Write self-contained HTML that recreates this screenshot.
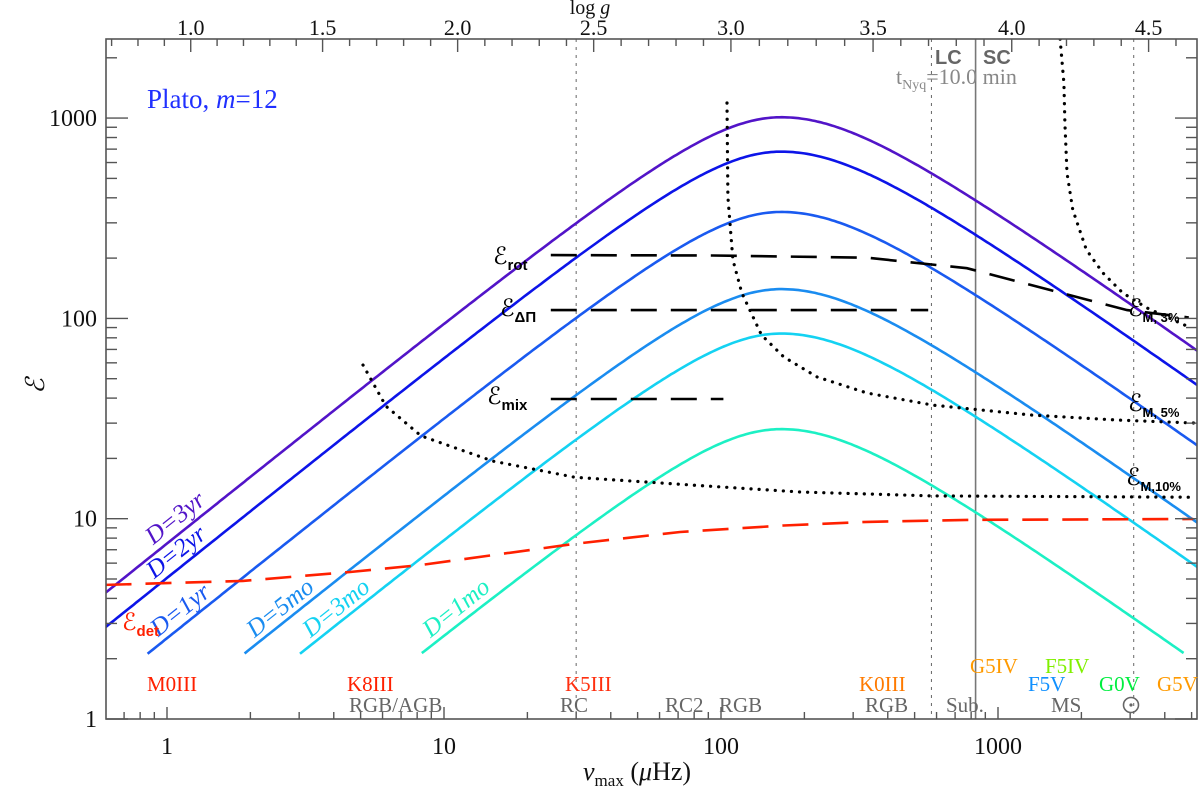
<!DOCTYPE html>
<html><head><meta charset="utf-8"><style>
html,body{margin:0;padding:0;background:#fff;}
svg{display:block;font-family:"Liberation Serif","DejaVu Serif",serif;}
</style></head><body>
<svg id="chart" width="1200" height="790" viewBox="0 0 1200 790">
<defs><clipPath id="plotclip"><rect x="106" y="39" width="1091" height="680"/></clipPath></defs>
<g id="grid"></g>
<g id="series" clip-path="url(#plotclip)"></g>
<g id="axes"></g>
<g id="labels"></g>
</svg>
<script>
// ---- data ----
const durations = ["3yr","2yr","1yr","5mo","3mo","1mo"];
const peakValues = [1010, 680, 340, 140, 84, 28];
const curveColors = ["#5214c8","#0c14e8","#1a5af0","#1a8cf0","#14d2f2","#1cf0c4"];
const peakNu = 165;
const detNu = [0.6, 1.88, 4.58, 8.27, 15.0, 29.7, 71.2, 168.6, 336.6, 772, 5070];
const detE  = [4.67, 4.89, 5.42, 5.87, 6.58, 7.49, 8.58, 9.25, 9.64, 9.86, 9.97];
const m10Nu = [5.10, 6.17, 8.27, 15.0, 29.7, 86.1, 193, 580, 4930];
const m10E  = [58.5, 36.5, 25.9, 19.4, 16.1, 14.6, 13.6, 13.0, 12.8];
const m5Nu = [105.1, 105.9, 110.4, 118.9, 140.0, 168.6, 222.5, 336.6, 580.5, 1329, 2673, 5207];
const m5E  = [1189, 404, 196, 134, 82.6, 64.2, 51.0, 42.4, 36.9, 32.9, 31.1, 30.0];
const m3Nu = [1675, 1729, 1744, 1775, 1862, 2085, 2389, 2820, 3441, 4883];
const m3E  = [2483, 1497, 945, 532, 348, 220, 169, 134, 113, 90.6];
const rotNu = [24.3, 93.4, 336.6, 772, 1530, 2925, 4883];
const rotE  = [207, 206, 201, 178, 139, 110, 101];
const dpNu = [24.3, 560]; const dpE = [110, 110];
const mixNu = [24.3, 102]; const mixE = [39.6, 39.6];
const yTicks = [1, 10, 100, 1000];
const yTickLabels = ["1","10","100","1000"];
const xTicks = [1, 10, 100, 1000];
const xTickLabels = ["1","10","100","1000"];
const loggTicks = [1.0, 1.5, 2.0, 2.5, 3.0, 3.5, 4.0, 4.5];
const loggTickLabels = ["1.0","1.5","2.0","2.5","3.0","3.5","4.0","4.5"];
const loggNu = [1.218, 3.645, 11.2, 34.7, 108.6, 354, 1121, 3497];
const vlineNu = [30, 575, 3090];
const nyqNu = 830;

// ---- axes functions ----
const X0=167, XD=277, Y1=719, YD=200.3, L=106, R=1197, T=39, B=719;
const xs = v => X0 + Math.log10(v)*XD;
const ys = v => Y1 - Math.log10(v)*YD;
const NS="http://www.w3.org/2000/svg";
function mk(tag, attrs, parent){const e=document.createElementNS(NS,tag);for(const k in attrs)e.setAttribute(k,attrs[k]);parent.appendChild(e);return e;}
const series=document.getElementById('series'), axes=document.getElementById('axes'), grid=document.getElementById('grid');

function pathFrom(nu,E){return nu.map((v,i)=>(i?'L':'M')+xs(v).toFixed(1)+','+ys(E[i]).toFixed(1)).join(' ');}

vlineNu.forEach((v,i)=>{
  const l=mk('line',{x1:xs(v),x2:xs(v),y1:T,y2:B,stroke:'#666','stroke-width':1,'stroke-dasharray':'3 5'},grid);
  
  
});
const nl=mk('line',{x1:xs(nyqNu),x2:xs(nyqNu),y1:T,y2:B,stroke:'#777','stroke-width':1.6},grid);



const c=0.385, up=Math.log10(peakNu);
durations.forEach((d,i)=>{
  let pts=[];
  for(let u=-0.3;u<=3.8;u+=0.01){
    const dd=u-up, k=dd<0?1.12:1.0;
    const le=Math.log10(peakValues[i])-(Math.sqrt(c*c+(k*dd)*(k*dd))-c);
    if(le<Math.log10(2.1)) continue;
    pts.push((pts.length?'L':'M')+(X0+u*XD).toFixed(1)+','+(Y1-le*YD).toFixed(1));
  }
  const p=mk('path',{d:pts.join(' '),fill:'none',stroke:curveColors[i],'stroke-width':2.6},series);
  
  
});
[[m10Nu,m10E,'m10'],[m5Nu,m5E,'m5'],[m3Nu,m3E,'m3']].forEach(a=>{
  const p=mk('path',{d:pathFrom(a[0],a[1]),fill:'none',stroke:'#000','stroke-width':3.2,'stroke-linecap':'round','stroke-dasharray':'0.1 8'},series);
  
  
});
[[rotNu,rotE,'rot'],[dpNu,dpE,'dpi'],[mixNu,mixE,'mix']].forEach(a=>{
  const p=mk('path',{d:pathFrom(a[0],a[1]),fill:'none',stroke:'#000','stroke-width':2.6,'stroke-dasharray':'26 14'},series);
  
  
});
const dp=mk('path',{d:pathFrom(detNu,detE),fill:'none',stroke:'#ff2000','stroke-width':2.6,'stroke-dasharray':'26 14'},series);



const fr=mk('rect',{x:L,y:T,width:R-L,height:B-T,fill:'none',stroke:'#555','stroke-width':1.6},axes);


for(let dec=0;dec<4;dec++){for(let m=1;m<10;m++){const v=m*Math.pow(10,dec);if(ys(v)<T)continue;const len=m===1?22:11;
  mk('line',{x1:L,x2:L+len,y1:ys(v),y2:ys(v),stroke:'#555','stroke-width':1.4},axes);
  mk('line',{x1:R,x2:R-len,y1:ys(v),y2:ys(v),stroke:'#555','stroke-width':1.4},axes);}}
yTicks.forEach((v,i)=>{const t=mk('text',{x:97,y:ys(v)+8,'text-anchor':'end','font-size':24,fill:'#111'},axes);t.textContent=yTickLabels[i];
  
  });
for(let dec=-1;dec<4;dec++){for(let m=1;m<10;m++){const v=m*Math.pow(10,dec);const x=xs(v);if(x<L||x>R)continue;const len=m===1?12:7;
  mk('line',{x1:x,x2:x,y1:B,y2:B-len,stroke:'#555','stroke-width':1.4},axes);}}
xTicks.forEach((v,i)=>{const t=mk('text',{x:xs(v),y:754,'text-anchor':'middle','font-size':24,fill:'#111'},axes);t.textContent=xTickLabels[i];
  
  });
function loggX(g){for(let i=0;i<loggTicks.length-1;i++){const a=loggTicks[i],b=loggTicks[i+1];if(g<=b||i===loggTicks.length-2){const xa=xs(loggNu[i]),xb=xs(loggNu[i+1]);return xa+(g-a)/(b-a)*(xb-xa);}}}
for(let g=0.7;g<=4.75;g+=0.1){const gg=Math.round(g*10)/10;const x=loggX(gg);if(x<L||x>R)continue;const major=Math.abs(gg*2-Math.round(gg*2))<1e-6;
  mk('line',{x1:x,x2:x,y1:T,y2:T+(major?13:7),stroke:'#555','stroke-width':1.4},axes);}
loggTicks.forEach((g,i)=>{const t=mk('text',{x:xs(loggNu[i]),y:35,'text-anchor':'middle','font-size':22,fill:'#111'},axes);t.textContent=loggTickLabels[i];
  
  });

document.getElementById('labels').innerHTML = `
<text x="590" y="14" text-anchor="middle" font-size="20" fill="#111">log <tspan font-style="italic">g</tspan></text>
<text x="583" y="780" font-size="26" fill="#111"><tspan font-style="italic">ν</tspan><tspan font-size="17" dy="6">max</tspan><tspan dy="-6"> (</tspan><tspan font-style="italic">μ</tspan>Hz)</text>
<text transform="translate(44,386) rotate(-90)" text-anchor="middle" font-size="26" font-style="italic" fill="#111">ℰ</text>
<text x="147" y="108" font-size="27" fill="#2030ff">Plato, <tspan font-style="italic">m</tspan>=12</text>
<text x="935" y="64" font-size="20" font-weight="bold" fill="#666" font-family="Liberation Sans, sans-serif">LC</text>
<text x="983" y="64" font-size="20" font-weight="bold" fill="#666" font-family="Liberation Sans, sans-serif">SC</text>
<text x="896" y="84" font-size="22" fill="#888">t<tspan font-size="14" dy="5">Nyq</tspan><tspan dy="-5">=10.0 min</tspan></text>
<g font-size="25" font-style="italic">
<text transform="translate(180,524) rotate(-38.5)" text-anchor="middle" fill="#5214c8">D=3yr</text>
<text transform="translate(181,558) rotate(-38.5)" text-anchor="middle" fill="#0c14e8">D=2yr</text>
<text transform="translate(185,616) rotate(-38.5)" text-anchor="middle" fill="#1a5af0">D=1yr</text>
<text transform="translate(285,614) rotate(-38.5)" text-anchor="middle" fill="#1a8cf0">D=5mo</text>
<text transform="translate(341,614) rotate(-38.5)" text-anchor="middle" fill="#14d2f2">D=3mo</text>
<text transform="translate(461,614) rotate(-38.5)" text-anchor="middle" fill="#1cf0c4">D=1mo</text>
</g>
<g font-size="24" fill="#000">
<text x="493" y="264">ℰ<tspan font-size="15" font-weight="bold" font-family="Liberation Sans, sans-serif" dy="6">rot</tspan></text>
<text x="500" y="316">ℰ<tspan font-size="15" font-weight="bold" font-family="Liberation Sans, sans-serif" dy="6">ΔΠ</tspan></text>
<text x="487" y="404">ℰ<tspan font-size="15" font-weight="bold" font-family="Liberation Sans, sans-serif" dy="6">mix</tspan></text>
<text x="1128" y="316">ℰ<tspan font-size="13" font-weight="bold" font-family="Liberation Sans, sans-serif" dy="6">M, 3%</tspan></text>
<text x="1128" y="411">ℰ<tspan font-size="13" font-weight="bold" font-family="Liberation Sans, sans-serif" dy="6">M, 5%</tspan></text>
<text x="1126" y="485">ℰ<tspan font-size="13" font-weight="bold" font-family="Liberation Sans, sans-serif" dy="6">M,10%</tspan></text>
<text x="122" y="630" fill="#ff2000">ℰ<tspan font-size="15" font-weight="bold" font-family="Liberation Sans, sans-serif" dy="6">det</tspan></text>
</g>
<g font-size="21">
<text x="147" y="691" fill="#ff2000">M0III</text>
<text x="347" y="691" fill="#ff2000">K8III</text>
<text x="565" y="691" fill="#ff3010">K5III</text>
<text x="859" y="691" fill="#ff7a00">K0III</text>
<text x="970" y="673" fill="#ff9a00">G5IV</text>
<text x="1045" y="673" fill="#80f000">F5IV</text>
<text x="1028" y="691" fill="#1090ff">F5V</text>
<text x="1099" y="691" fill="#00ee40">G0V</text>
<text x="1157" y="691" fill="#ff9a00">G5V</text>
</g>
<g font-size="21" fill="#666">
<text x="349" y="712">RGB/AGB</text>
<text x="560" y="712">RC</text>
<text x="665" y="712">RC2</text>
<text x="719" y="712">RGB</text>
<text x="865" y="712">RGB</text>
<text x="946" y="712">Sub.</text>
<text x="1051" y="712">MS</text>
</g>
<g><circle cx="1131" cy="705" r="7.5" fill="none" stroke="#666" stroke-width="1.6"/><circle cx="1131" cy="705" r="1.6" fill="#666"/></g>
`;
</script>
</body></html>
